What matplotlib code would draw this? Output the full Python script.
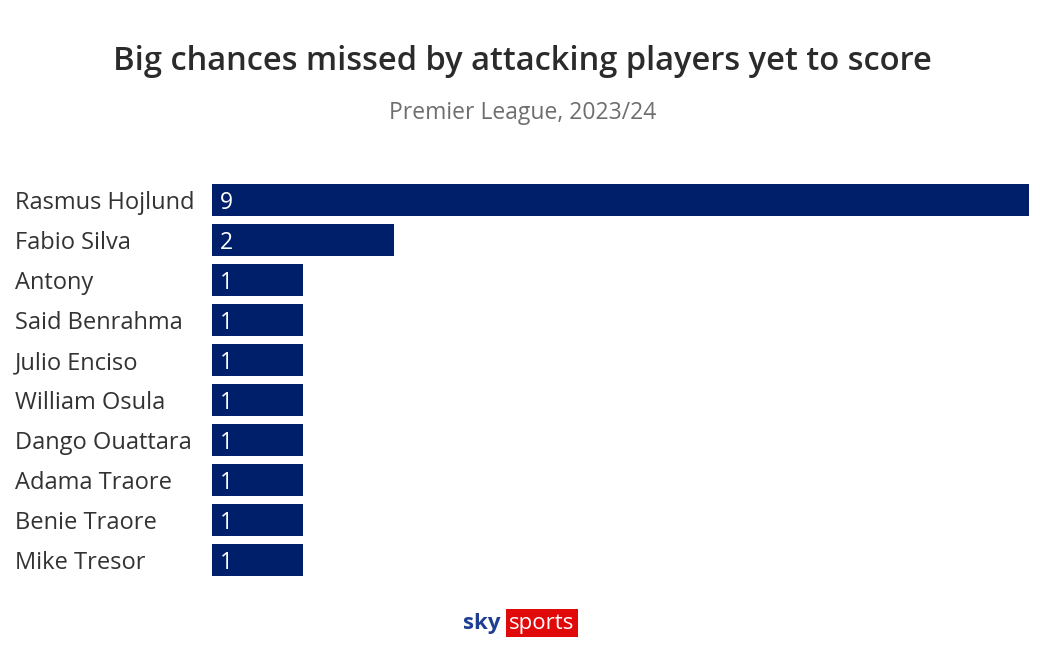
import matplotlib.pyplot as plt

players = ["Rasmus Hojlund", "Fabio Silva", "Antony", "Said Benrahma", "Julio Enciso",
           "William Osula", "Dango Ouattara", "Adama Traore", "Benie Traore", "Mike Tresor"]
big_chances = [9, 2, 1, 1, 1, 1, 1, 1, 1, 1]

navy = "#001f6b"
font = ["Open Sans", "DejaVu Sans"]
plt.rcParams["font.family"] = font

fig = plt.figure(figsize=(10.45, 6.62), dpi=100)
ax = fig.add_axes([212 / 1045, 82 / 662, 817 / 1045, 400 / 662])

ypos = list(range(len(players)))
ax.barh(ypos, big_chances, height=0.8, color=navy)
ax.set_xlim(0, 9)
ax.set_ylim(len(players) - 0.5, -0.5)
ax.axis("off")

for y, (name, v) in enumerate(zip(players, big_chances)):
    ax.text(0.09, y + 0.07, str(v), color="white", fontsize=16.5, va="center", ha="left")
    fig.text(15 / 1045, 1 - (203 + 40 * y) / 662, name, fontsize=17, color="#333333",
             va="center", ha="left")

fig.text(0.5, 1 - 62 / 662, "Big chances missed by attacking players yet to score",
         fontsize=23.5, fontweight="semibold", color="#2b2b2b", ha="center", va="center")
fig.text(0.5, 1 - 113 / 662, "Premier League, 2023/24", fontsize=16.5, color="#6e6e6e",
         ha="center", va="center")

# sky sports logo
fig.text(482 / 1045, 1 - 623 / 662, "sky", fontsize=16, fontweight="bold", color="#1d3e94",
         ha="center", va="center")
fig.text(542 / 1045, 1 - 623 / 662, "sports", fontsize=16, color="white", ha="center",
         va="center", bbox=dict(boxstyle="square,pad=0.15", fc="#e10a0a", ec="none"))

fig.savefig("out.png", dpi=100, facecolor="white")
